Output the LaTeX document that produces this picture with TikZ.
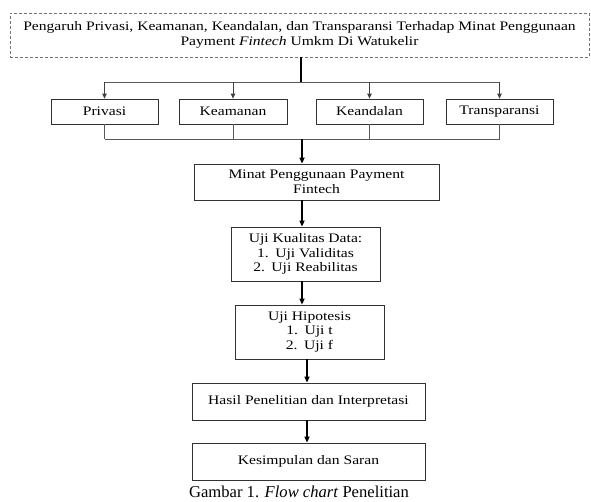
\documentclass[tikz,border=0pt]{standalone}
\usepackage{fontspec}
\setmainfont{Liberation Serif}
\newfontfamily\boxfont[FakeStretch=1.2]{Liberation Serif}
\usetikzlibrary{arrows.meta}

\tikzset{
  box/.style={draw=black!80, line width=0.8pt, align=center, inner sep=0pt,
    font=\boxfont\fontsize{13}{14.5}\selectfont},
  judulbox/.style={box, draw=black!55, dash pattern=on 3pt off 2pt},
  arr/.style={-{Triangle[length=6pt,width=5pt]}, line width=1.6pt},
  thinarr/.style={-{Triangle[length=5pt,width=4.5pt]}, line width=0.8pt, draw=black!75},
  link/.style={line width=0.8pt, draw=black!65},
}

\begin{document}
\begin{tikzpicture}[x=1pt,y=-1pt]
  \useasboundingbox (0,0) rectangle (591,501);

  % judul penelitian
  \node[judulbox, minimum width=579pt, minimum height=44pt] (judul) at (299.5,35)
    {Pengaruh Privasi, Keamanan, Keandalan, dan Transparansi Terhadap Minat Penggunaan\\
     Payment \textit{Fintech} Umkm Di Watukelir};

  % variabel
  \begin{scope}[every node/.style={box, minimum height=25pt}]
    \node[minimum width=107pt] (privasi)      at (104.5,111.5) {Privasi};
    \node[minimum width=108pt] (keamanan)     at (233,111.5)   {Keamanan};
    \node[minimum width=107pt] (keandalan)    at (369.5,111.5) {Keandalan};
    \node[minimum width=107pt] (transparansi) at (499.5,111.5) {Transparansi};
  \end{scope}

  % tahapan
  \begin{scope}[every node/.style={box}]
    \node[minimum width=245pt, minimum height=36pt] (minat) at (316.5,182)
      {Minat Penggunaan Payment\\Fintech};
    \node[minimum width=149pt, minimum height=54pt] (kualitas) at (305.5,254)
      {Uji Kualitas Data:\\1.\enspace Uji Validitas\\2.\enspace Uji Reabilitas};
    \node[minimum width=149pt, minimum height=54pt] (hipotesis) at (309.5,332)
      {Uji Hipotesis\\1.\enspace Uji t\\2.\enspace Uji f};
    \node[minimum width=233pt, minimum height=37pt] (hasil) at (308.5,401.5)
      {Hasil Penelitian dan Interpretasi};
    \node[minimum width=233pt, minimum height=37pt] (kesimpulan) at (308.5,461.5)
      {Kesimpulan dan Saran};
  \end{scope}

  \node[font=\fontsize{16.6}{18}\selectfont, inner sep=0pt] (caption) at (299,492)
    {Gambar 1. \textit{Flow chart} Penelitian};

  \coordinate (cabang) at (301,82);
  \coordinate (gabung) at (302,139);
  \coordinate (poros) at (302,0);
  \coordinate (poros2) at (307,0);

  % cabang ke variabel
  \draw[arr, -] (judul.south -| cabang) -- (cabang);
  \draw[link] (privasi.north |- cabang) -- (transparansi.north |- cabang);
  \foreach \v in {privasi,keamanan,keandalan,transparansi}
    \draw[thinarr] (\v.north |- cabang) -- (\v.north);

  % gabung ke minat
  \foreach \v in {privasi,keamanan,keandalan,transparansi}
    \draw[link] (\v.south) -- (\v.south |- gabung);
  \draw[link] (privasi.south |- gabung) -- (transparansi.south |- gabung);
  \draw[arr] (gabung) -- (gabung |- minat.north);

  % alur tahapan
  \draw[arr] (poros |- minat.south) -- (poros |- kualitas.north);
  \draw[arr] (poros |- kualitas.south) -- (poros |- hipotesis.north);
  \draw[arr] (poros2 |- hipotesis.south) -- (poros2 |- hasil.north);
  \draw[arr] (poros2 |- hasil.south) -- (poros2 |- kesimpulan.north);

\end{tikzpicture}
\end{document}
